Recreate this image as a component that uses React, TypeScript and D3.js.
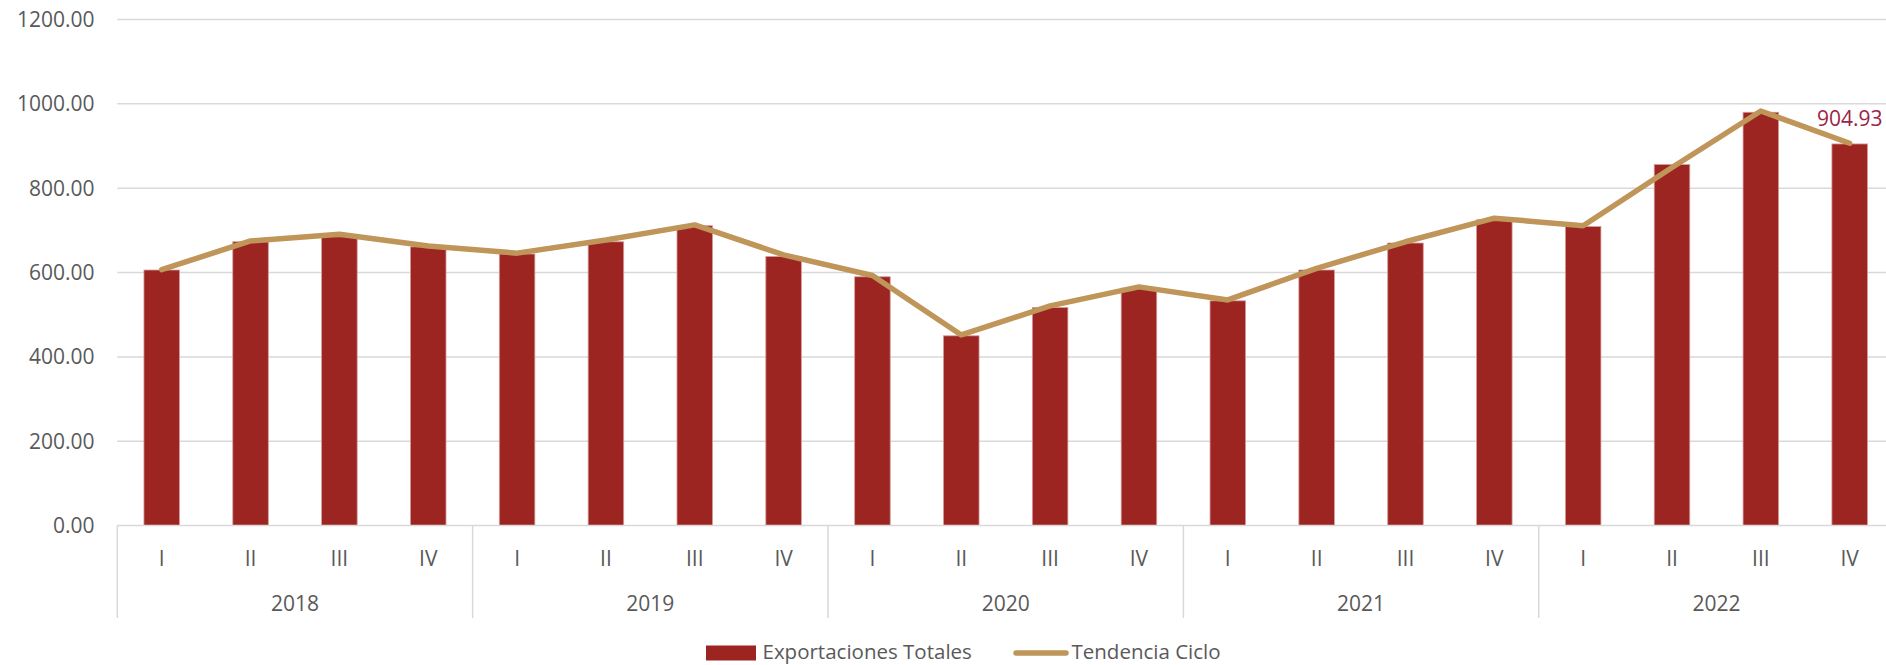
import React from "react";
import * as d3 from "d3";

const years = ["2018", "2019", "2020", "2021", "2022"];
const quarters = ["I", "II", "III", "IV"];
const exportaciones = [606, 673, 685, 661, 644, 673, 711, 638, 590, 450, 517, 563, 533, 606, 670, 725, 709, 856, 980, 904.93];
const tendencia = [607, 675, 691, 663, 646, 677, 713, 642, 593, 452, 521, 566, 535, 610, 673, 729, 711, 849, 983, 906.5];
const yTicks = [0, 200, 400, 600, 800, 1000, 1200];
const lastLabel = "904.93";

const W = 1886;
const H = 665;
const FONT = "'Open Sans', sans-serif";
const TXT = "#595959";
const GRID = "#d9d9d9";
const BAR = "#9d2521";
const LINE = "#bf9559";

export default function App() {
  const cats = years.flatMap((y) => quarters.map((q) => `${y}-${q}`));
  const x = d3.scaleBand<string>().domain(cats).range([117.3, 1894.1]).paddingInner(0.6).paddingOuter(0.3);
  const y = d3.scaleLinear().domain([0, 1200]).range([525.6, 19.5]);
  const step = x.step();
  const left = 117.3;
  const cx = (i: number) => (x(cats[i]) as number) + x.bandwidth() / 2;
  const linePath = d3
    .line<number>()
    .x((_, i) => cx(i))
    .y((d) => y(d))(tendencia) as string;

  return (
    <div style={{ position: "fixed", left: 0, top: 0 }}>
      <svg width={W} height={H} style={{ display: "block", background: "#fff" }}>
        {yTicks.map((t) => (
          <g key={t}>
            {t !== 0 && (
              <line x1={left} x2={1894} y1={y(t)} y2={y(t)} stroke={GRID} strokeWidth={1.5} />
            )}
            <text x={94.5} y={y(t)} dy="0.35em" textAnchor="end" fontFamily={FONT} fontSize={21} fill={TXT}>
              {d3.format(".2f")(t)}
            </text>
          </g>
        ))}
        {exportaciones.map((v, i) => (
          <rect
            key={i}
            x={x(cats[i]) as number}
            y={y(v)}
            width={x.bandwidth()}
            height={y(0) - y(v)}
            fill={BAR}
            stroke="#d59a98"
            strokeWidth={0.8}
          />
        ))}
        <line x1={left} x2={1894} y1={y(0)} y2={y(0)} stroke={GRID} strokeWidth={1.5} />
        {d3.range(years.length + 1).map((k) => (
          <line
            key={k}
            x1={left + k * 4 * step}
            x2={left + k * 4 * step}
            y1={y(0)}
            y2={618}
            stroke={GRID}
            strokeWidth={1.5}
          />
        ))}
        {cats.map((c, i) => (
          <text key={c} x={cx(i)} y={558.5} dy="0.35em" textAnchor="middle" fontFamily={FONT} fontSize={21} fill={TXT}>
            {quarters[i % 4]}
          </text>
        ))}
        {years.map((yr, k) => (
          <text
            key={yr}
            x={left + (k * 4 + 2) * step}
            y={603.5}
            dy="0.35em"
            textAnchor="middle"
            fontFamily={FONT}
            fontSize={21}
            fill={TXT}
          >
            {yr}
          </text>
        ))}
        <path d={linePath} fill="none" stroke={LINE} strokeWidth={5.5} strokeLinejoin="round" strokeLinecap="round" />
        <text
          x={cx(exportaciones.length - 1)}
          y={118.7}
          dy="0.35em"
          textAnchor="middle"
          fontFamily={FONT}
          fontSize={21}
          fill="#9c2446"
        >
          {lastLabel}
        </text>
        <g>
          <rect x={706} y={645.5} width={50} height={15} fill={BAR} />
          <text x={762.5} y={652} dy="0.35em" fontFamily={FONT} fontSize={20.5} fill={TXT}>
            Exportaciones Totales
          </text>
          <line x1={1016} x2={1066} y1={653} y2={653} stroke={LINE} strokeWidth={5.5} strokeLinecap="round" />
          <text x={1071.5} y={652} dy="0.35em" fontFamily={FONT} fontSize={20.5} fill={TXT}>
            Tendencia Ciclo
          </text>
        </g>
      </svg>
    </div>
  );
}
